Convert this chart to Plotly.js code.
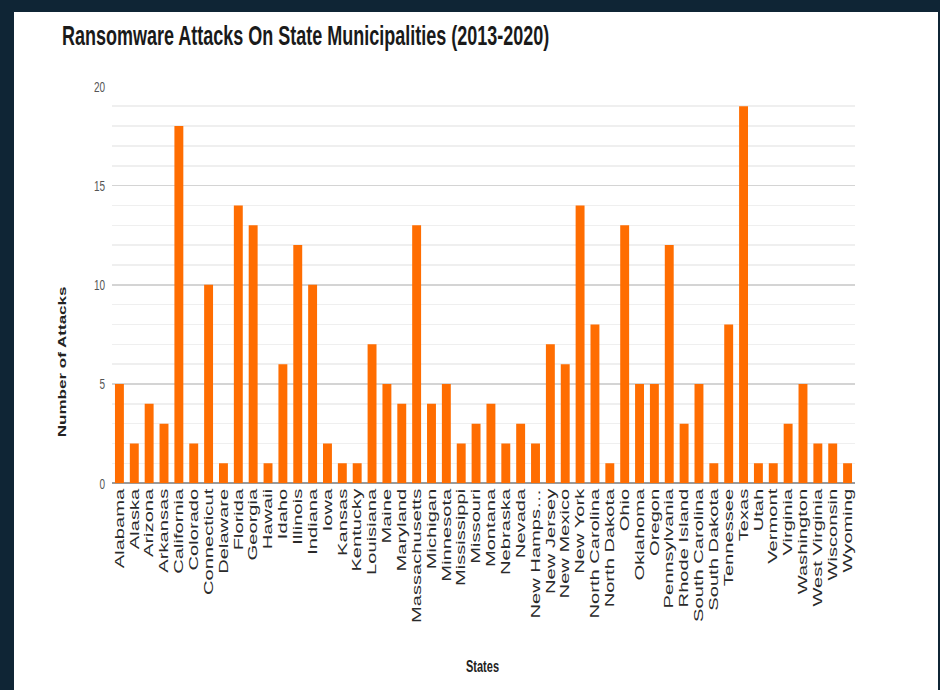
<!DOCTYPE html>
<html>
<head>
<meta charset="utf-8">
<script src="https://cdn.plot.ly/plotly-3.0.1.min.js"></script>
<style>
  html, body { margin:0; padding:0; background:#0f2535; width:940px; height:690px; overflow:hidden; }
  #frame { position:absolute; left:14px; top:12px; width:924px; height:678px; background:#ffffff; overflow:hidden; }
  #chart { position:absolute; left:0; top:0; width:924px; height:437px; transform:scaleY(1.55); transform-origin:0 0; }
</style>
</head>
<body>
<div id="frame"><div id="chart"></div></div>
<script>
const states = ["Alabama","Alaska","Arizona","Arkansas","California","Colorado","Connecticut","Delaware","Florida","Georgia",
  "Hawaii","Idaho","Illinois","Indiana","Iowa","Kansas","Kentucky","Louisiana","Maine","Maryland",
  "Massachusetts","Michigan","Minnesota","Mississippi","Missouri","Montana","Nebraska","Nevada","New Hamps…","New Jersey",
  "New Mexico","New York","North Carolina","North Dakota","Ohio","Oklahoma","Oregon","Pennsylvania","Rhode Island","South Carolina",
  "South Dakota","Tennessee","Texas","Utah","Vermont","Virginia","Washington","West Virginia","Wisconsin","Wyoming"];
const attacks = [5,2,4,3,18,2,10,1,14,13,
  1,6,12,10,2,1,1,7,5,4,
  13,4,5,2,3,4,2,3,2,7,
  6,14,8,1,13,5,5,12,3,5,
  1,8,19,1,1,3,5,2,2,1];
const yTicks = [0,5,10,15,20];
const chartTitle = "Ransomware Attacks On State Municipalities (2013-2020)";
const yTitle = "Number of Attacks";
const xTitle = "States";

const FONT = '"Liberation Sans", Arial, sans-serif';

Plotly.newPlot('chart', [{
  type: 'bar',
  x: states,
  y: attacks,
  marker: { color: '#ff6d01' },
  hoverinfo: 'x+y'
}], {
  width: 924,
  height: 437,
  margin: { l: 98, r: 83, t: 48.4, b: 132.5 },
  paper_bgcolor: 'rgba(0,0,0,0)',
  plot_bgcolor: 'rgba(0,0,0,0)',
  bargap: 0.4,
  showlegend: false,
  font: { family: FONT, color: '#333' },
  title: {
    text: chartTitle,
    font: { family: FONT, size: 18, color: '#1a1a1a', weight: 'bold' },
    xref: 'container', x: 0.052, xanchor: 'left',
    yref: 'container', y: 0.965, yanchor: 'middle'
  },
  xaxis: {
    type: 'category',
    tickmode: 'linear', dtick: 1,
    tickangle: -90,
    tickfont: { family: FONT, size: 13, color: '#2a2a2a' },
    showgrid: false,
    showline: false,
    ticks: '',
    automargin: false
  },
  yaxis: {
    range: [0, 20],
    tickmode: 'array',
    tickvals: yTicks,
    ticktext: yTicks.map(String),
    tickfont: { family: FONT, size: 10, color: '#555' },
    showgrid: true,
    gridcolor: '#d4d4d4',
    gridwidth: 1,
    minor: { dtick: 1, showgrid: true, gridcolor: '#efefef', gridwidth: 1, ticks: '' },
    zeroline: true,
    zerolinecolor: '#9a9a9a',
    zerolinewidth: 1,
    ticks: '',
    ticklabelstandoff: 6,
    automargin: false
  },
  annotations: [
    { text: yTitle, xref: 'paper', yref: 'paper', x: -0.0673, y: 0.307, textangle: -90,
      showarrow: false, xanchor: 'center', yanchor: 'middle',
      font: { family: FONT, size: 11, color: '#222', weight: 'bold' } },
    { text: xTitle, xref: 'paper', yref: 'paper', x: 0.498, y: -0.461,
      showarrow: false, xanchor: 'center', yanchor: 'middle',
      font: { family: FONT, size: 11, color: '#222', weight: 'bold' } }
  ]
}, { displayModeBar: false, staticPlot: true });
</script>
</body>
</html>
